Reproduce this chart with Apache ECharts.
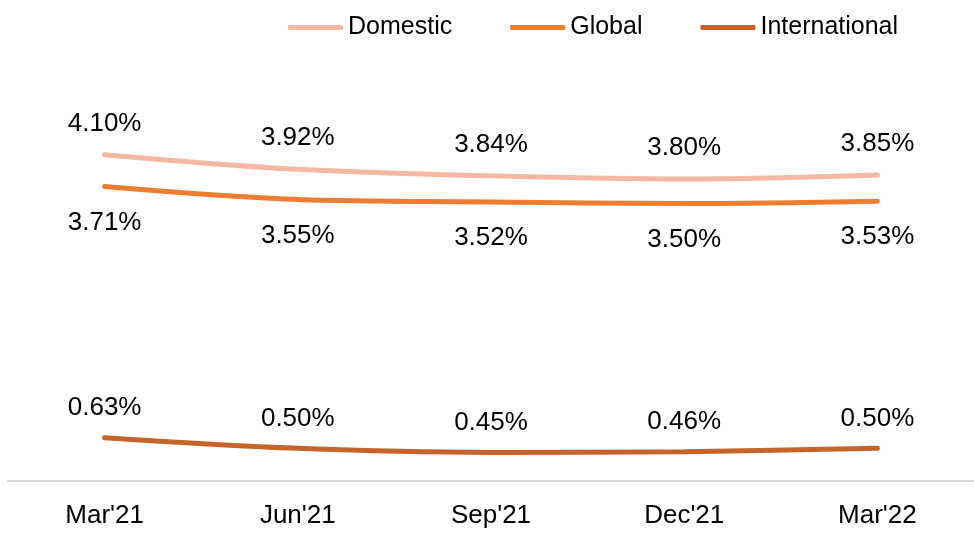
<!DOCTYPE html>
<html><head><meta charset="utf-8">
<script src="https://cdn.jsdelivr.net/npm/echarts@6/dist/echarts.min.js"></script>
<style>html,body{margin:0;padding:0;background:#fff}#c{width:974px;height:534px}</style>
</head><body><div id="c"></div>
<script>
var categories = ["Mar'21", "Jun'21", "Sep'21", "Dec'21", "Mar'22"];
var domestic = [4.10, 3.92, 3.84, 3.80, 3.85];
var globalVals = [3.71, 3.55, 3.52, 3.50, 3.53];
var international = [0.63, 0.50, 0.45, 0.46, 0.50];
var seriesNames = ['Domestic', 'Global', 'International'];
var colors = ['#F4B9A2', '#ED7D31', '#C5652B'];

var font = 'Liberation Sans, Arial, sans-serif';
function lbl(pos, dist) {
  return {show: true, position: pos, distance: dist, color: '#000', fontSize: 26, fontFamily: font,
    formatter: function(p){ return p.value.toFixed(2) + '%'; }};
}
function mk(name, data, color, pos, dist) {
  return {name: name, type: 'line', data: data, smooth: 0.35, symbol: 'circle', symbolSize: 0, showSymbol: true,
    lineStyle: {color: color, width: 5, cap: 'round'}, itemStyle: {color: color},
    label: lbl(pos, dist), labelLayout: {hideOverlap: false}, emphasis: {disabled: true}};
}
var chart = echarts.init(document.getElementById('c'));
chart.setOption({
  animation: false,
  legend: {top: 10, left: 283, itemWidth: 55, itemHeight: 5, itemGap: 58, icon: 'roundRect',
    textStyle: {fontSize: 25, fontFamily: font, color: '#000'},
    data: seriesNames},
  grid: {left: 8, right: 0, top: 122, bottom: 53},
  xAxis: {type: 'category', data: categories, boundaryGap: true,
    axisLine: {lineStyle: {color: '#D9D9D9', width: 2}}, axisTick: {show: false},
    axisLabel: {color: '#000', fontSize: 26, fontFamily: font, margin: 22}},
  yAxis: {type: 'value', min: 0.1, max: 4.5, show: false, splitLine: {show: false}},
  series: [
    mk(seriesNames[0], domestic, colors[0], 'top', 18),
    mk(seriesNames[1], globalVals, colors[1], 'bottom', 23),
    mk(seriesNames[2], international, colors[2], 'top', 17)
  ]
});
</script></body></html>
